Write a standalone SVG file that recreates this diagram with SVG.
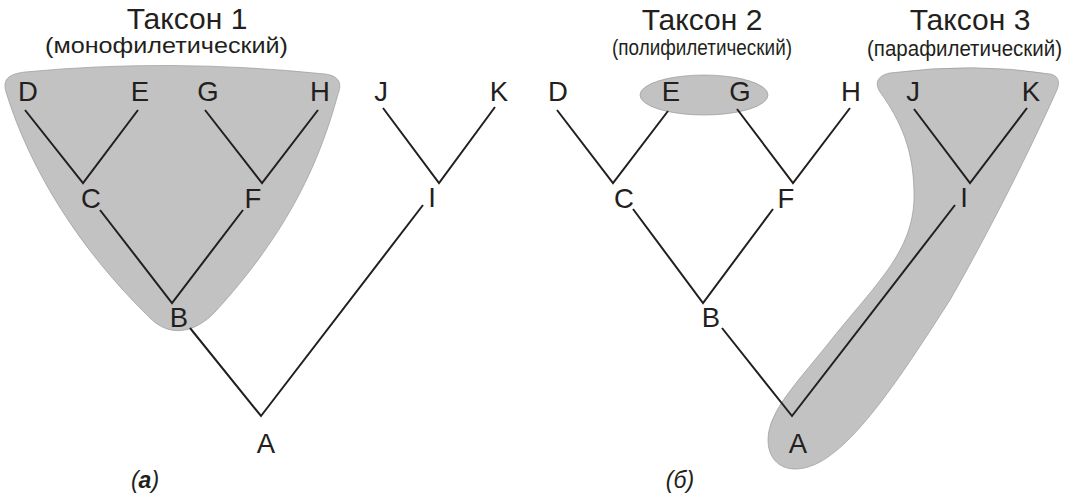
<svg xmlns="http://www.w3.org/2000/svg" width="1075" height="497" viewBox="0 0 1075 497">
<style>
.bg{fill:#fff}
.sh{fill:#c2c2c2;stroke:#9a9a9a;stroke-width:0.7}
.e{fill:none;stroke:#231f20;stroke-width:2;stroke-linejoin:miter;stroke-miterlimit:10}
.lb{font-family:"Liberation Sans",Arial,sans-serif;font-size:27.5px;fill:#231f20;text-anchor:middle}
.tt{font-family:"Liberation Sans",Arial,sans-serif;font-size:30px;fill:#231f20;text-anchor:middle}
.st{font-family:"Liberation Sans",Arial,sans-serif;fill:#231f20}
.cap{font-family:"Liberation Sans",Arial,sans-serif;font-size:23px;font-style:italic;fill:#231f20;text-anchor:middle}
</style>
<rect class="bg" width="1075" height="497"/>
<g id="taxa">
<path id="taxon1-area" class="sh" d="M6,92 C2,78 10,74 25,72 Q170,58 325,74 C340,76 342,84 338,94 C320,160 290,230 215,312 C195,333 170,338 150,318 C80,250 30,170 6,92 Z"/>
<ellipse id="taxon2-area" class="sh" cx="704" cy="95" rx="64" ry="20"/>
<path id="taxon3-area" class="sh" d="M1056,92 C1030,150 990,230 950,300 C905,370 860,440 820,462 C790,478 768,465 768,440 C768,410 800,380 835,335 C880,280 912,250 914,200 C915,150 900,120 880,92 C875,84 876,76 890,73 Q975,62 1050,74 C1060,76 1060,84 1056,92 Z"/>
</g>
<g id="connectors">
<polyline class="e" points="25,110 83,183 138,110"/>
<polyline class="e" points="205,110 262,183 318,110"/>
<polyline class="e" points="100,210 172,303 243,210"/>
<polyline class="e" points="190,328 261,416 423,205"/>
<polyline class="e" points="383,108 439,183 495,107"/>
<polyline class="e" points="557,110 613,183 668,111"/>
<polyline class="e" points="737,109 793,183 850,108"/>
<polyline class="e" points="633,209 703,303 773,209"/>
<polyline class="e" points="722,328 792,416 955,205"/>
<polyline class="e" points="914,109 970,183 1027,108"/>
</g>
<g id="titles">
<text class="tt" x="187" y="29">Таксон 1</text>
<text class="st" x="45" y="53" font-size="22.5" textLength="243" lengthAdjust="spacingAndGlyphs">(монофилетический)</text>
<text class="tt" x="702" y="30">Таксон 2</text>
<text class="st" x="612" y="55" font-size="22" textLength="180" lengthAdjust="spacingAndGlyphs">(полифилетический)</text>
<text class="tt" x="970" y="30">Таксон 3</text>
<text class="st" x="867" y="56" font-size="22" textLength="195" lengthAdjust="spacingAndGlyphs">(парафилетический)</text>
</g>
<g id="tree-a">
<g id="a-D"><text class="lb" x="28" y="101">D</text></g>
<g id="a-E"><text class="lb" x="140" y="101">E</text></g>
<g id="a-G"><text class="lb" x="208" y="101">G</text></g>
<g id="a-H"><text class="lb" x="320" y="101">H</text></g>
<g id="a-J"><text class="lb" x="381" y="101">J</text></g>
<g id="a-K"><text class="lb" x="499" y="101">K</text></g>
<g id="a-C"><text class="lb" x="91" y="208">C</text></g>
<g id="a-F"><text class="lb" x="253" y="208">F</text></g>
<g id="a-I"><text class="lb" x="432" y="207">I</text></g>
<g id="a-B"><text class="lb" x="179" y="327">B</text></g>
<g id="a-A"><text class="lb" x="266" y="453">A</text></g>
<text class="cap" x="145" y="488">(<tspan font-weight="bold">а</tspan>)</text>
</g>
<g id="tree-b">
<g id="b-D"><text class="lb" x="558" y="101">D</text></g>
<g id="b-E"><text class="lb" x="671" y="101">E</text></g>
<g id="b-G"><text class="lb" x="740" y="101">G</text></g>
<g id="b-H"><text class="lb" x="851" y="101">H</text></g>
<g id="b-J"><text class="lb" x="913" y="101">J</text></g>
<g id="b-K"><text class="lb" x="1031" y="101">K</text></g>
<g id="b-C"><text class="lb" x="624" y="208">C</text></g>
<g id="b-F"><text class="lb" x="786" y="208">F</text></g>
<g id="b-I"><text class="lb" x="964" y="207">I</text></g>
<g id="b-B"><text class="lb" x="711" y="327">B</text></g>
<g id="b-A"><text class="lb" x="798" y="453">A</text></g>
<text class="cap" x="680" y="488">(б)</text>
</g>
</svg>
